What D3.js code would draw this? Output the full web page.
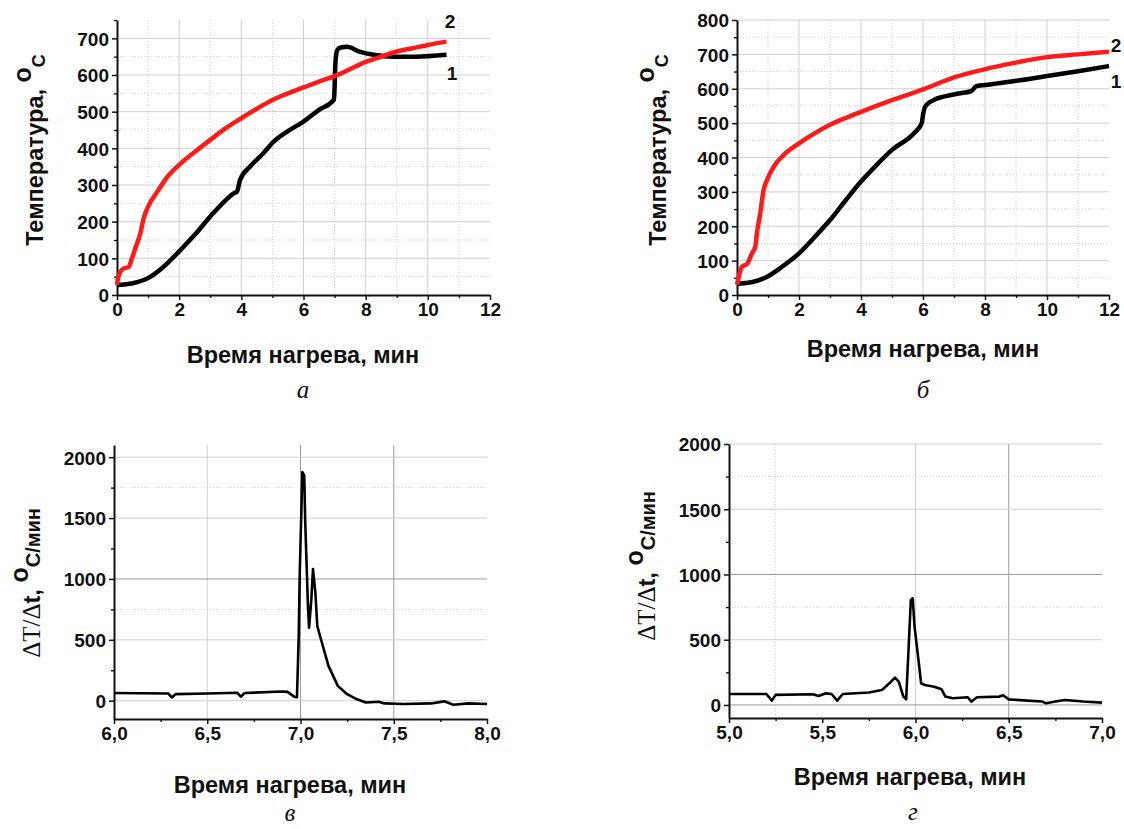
<!DOCTYPE html>
<html>
<head>
<meta charset="utf-8">
<script src="https://cdn.jsdelivr.net/npm/d3@7"></script>
<style>
  body { margin: 0; background: #fff; }
  svg { display: block; }
  .tick text { font-family: "Liberation Sans", Arial, sans-serif; font-weight: bold; font-size: 19px; fill: #111; }
  .ttl { font-family: "Liberation Sans", Arial, sans-serif; font-weight: bold; font-size: 23.5px; fill: #111; }
  .cap { font-family: "Liberation Serif", "Times New Roman", serif; font-style: italic; font-size: 25px; fill: #111; }
</style>
</head>
<body>
<div id="chart"></div>
<script>
// panel a: heating curves (1 - black, 2 - red)
var aTime1 = [0, 0.5, 1, 1.5, 2, 2.5, 3, 3.5, 3.75, 3.86, 3.96, 4.3, 4.7, 5.04, 5.5, 6, 6.5, 6.98, 7.0, 7.02, 7.05, 7.1, 7.2, 7.4, 7.8, 8.25, 8.9, 9.6, 10.6];
var aTemp1 = [27, 32, 46, 77, 119, 164, 214, 259, 277, 282, 314, 352, 386, 418, 447, 473, 505, 533, 565, 620, 655, 670, 675, 677, 664, 655, 650, 650, 655];
var aTime2 = [0, 0.03, 0.1, 0.2, 0.37, 0.48, 0.6, 0.75, 0.86, 1.0, 1.3, 1.6, 2, 2.5, 3, 3.5, 4, 4.5, 5, 5.5, 6, 6.5, 7, 7.4, 8, 8.5, 9, 9.5, 10, 10.6];
var aTemp2 = [28, 45, 62, 72, 76, 100, 130, 168, 210, 241, 282, 320, 355, 390, 423, 455, 482, 508, 532, 550, 566, 582, 597, 612, 636, 650, 664, 673, 682, 691];

// panel b
var bTime1 = [0, 0.5, 0.97, 1.45, 2, 2.5, 3, 3.5, 4, 4.5, 5, 5.7, 5.96, 6.0, 6.07, 6.34, 6.66, 7.2, 7.52, 7.6, 7.7, 8, 9, 10, 11, 12];
var bTemp1 = [33, 38, 53, 82, 121, 168, 218, 275, 330, 378, 422, 470, 500, 524, 548, 567, 577, 587, 592, 596, 607, 611, 623, 637, 651, 666];
var bTime2 = [0, 0.05, 0.16, 0.32, 0.48, 0.59, 0.64, 0.75, 0.86, 0.97, 1.18, 1.5, 2, 2.5, 3, 3.5, 4, 5, 6, 7, 8, 9, 10, 11, 12];
var bTemp2 = [30, 50, 82, 90, 121, 141, 179, 238, 306, 335, 373, 407, 441, 470, 495, 515, 533, 567, 598, 633, 657, 676, 692, 700, 708];

// panel v: dT/dt
var vTime = [6.0, 6.29, 6.31, 6.33, 6.5, 6.66, 6.68, 6.7, 6.9, 6.93, 6.97, 6.981, 6.99, 6.996, 7.01, 7.02, 7.025, 7.04, 7.046, 7.058, 7.067, 7.08, 7.09, 7.11, 7.15, 7.2, 7.25, 7.3, 7.35, 7.42, 7.45, 7.55, 7.7, 7.77, 7.82, 7.9, 8.0];
var vRate = [63, 60, 27, 54, 60, 66, 33, 63, 76, 73, 30, 28, 500, 1050, 1878, 1850, 1483, 776, 599, 830, 1081, 884, 612, 503, 286, 122, 54, 14, -14, -8, -22, -27, -22, -5, -33, -22, -27];

// panel g
var gTime = [5.0, 5.2, 5.23, 5.25, 5.45, 5.48, 5.52, 5.55, 5.58, 5.61, 5.75, 5.82, 5.86, 5.89, 5.91, 5.935, 5.95, 5.96, 5.975, 5.985, 5.995, 6.02, 6.03, 6.05, 6.1, 6.14, 6.16, 6.2, 6.28, 6.3, 6.33, 6.45, 6.47, 6.5, 6.6, 6.68, 6.7, 6.75, 6.8, 6.9, 7.0];
var gRate = [84, 84, 33, 77, 82, 69, 89, 84, 33, 84, 95, 115, 166, 209, 179, 64, 43, 345, 805, 817, 600, 294, 166, 153, 140, 120, 64, 51, 59, 26, 59, 64, 74, 43, 33, 26, 13, 26, 38, 26, 18];

var tempTicks = [0, 100, 200, 300, 400, 500, 600, 700, 800];
var rateTicks = [0, 500, 1000, 1500, 2000];

var xTitle = 'Время нагрева, мин';

var svg = d3.select('#chart').append('svg')
    .attr('width', 1124)
    .attr('height', 829);

var comma = function (d) { return d3.format('.1f')(d).replace('.', ','); };

function zip(xs, ys) {
    return xs.map(function (x, i) { return [x, ys[i]]; });
}

function drawPanel(p) {
    var g = svg.append('g');
    var x = d3.scaleLinear().domain(p.xDomain).range([p.left, p.right]);
    var y = d3.scaleLinear().domain(p.yDomain).range([p.bottom, p.top]);

    // grid
    p.xMinorGrid.forEach(function (v) {
        g.append('line').attr('x1', x(v)).attr('x2', x(v)).attr('y1', p.top).attr('y2', p.bottom)
            .attr('stroke', '#d0d0d0').attr('stroke-dasharray', '1,2');
    });
    p.yMinorGrid.forEach(function (v) {
        g.append('line').attr('x1', p.left).attr('x2', p.right).attr('y1', y(v)).attr('y2', y(v))
            .attr('stroke', '#d0d0d0').attr('stroke-dasharray', '1,2');
    });
    p.xGrid.forEach(function (v) {
        g.append('line').attr('x1', x(v)).attr('x2', x(v)).attr('y1', p.top).attr('y2', p.bottom)
            .attr('stroke', p.darkGridX && p.darkGridX.indexOf(v) >= 0 ? '#9a9a9a' : '#cfcfcf');
    });
    p.yGrid.forEach(function (v) {
        g.append('line').attr('x1', p.left).attr('x2', p.right).attr('y1', y(v)).attr('y2', y(v))
            .attr('stroke', p.darkGridY && p.darkGridY.indexOf(v) >= 0 ? '#9a9a9a' : '#cfcfcf');
    });

    // minor ticks
    g.append('g').attr('transform', 'translate(0,' + p.bottom + ')')
        .call(d3.axisBottom(x).tickValues(p.xMinor).tickSize(3).tickFormat(''))
        .call(function (a) { a.select('.domain').remove(); a.selectAll('line').attr('stroke-width', 1.3); });
    g.append('g').attr('transform', 'translate(' + p.left + ',0)')
        .call(d3.axisLeft(y).tickValues(p.yMinor).tickSize(3).tickFormat(''))
        .call(function (a) { a.select('.domain').remove(); a.selectAll('line').attr('stroke-width', 1.3); });

    // main axes
    var xa = g.append('g').attr('transform', 'translate(0,' + p.bottom + ')')
        .call(d3.axisBottom(x).tickValues(p.xTicks).tickSize(5).tickSizeOuter(0).tickPadding(3).tickFormat(p.xFormat || d3.format('d')));
    var ya = g.append('g').attr('transform', 'translate(' + p.left + ',0)')
        .call(d3.axisLeft(y).tickValues(p.yTicks).tickSize(5).tickSizeOuter(0).tickPadding(3).tickFormat(d3.format('d')));
    [xa, ya].forEach(function (a) {
        a.select('.domain').attr('stroke-width', 2).attr('stroke', '#111');
        a.selectAll('.tick line').attr('stroke-width', 1.5).attr('stroke', '#111');
    });
    ya.selectAll('.tick text').attr('dy', '0.36em');

    // curves
    p.series.forEach(function (s) {
        g.append('path')
            .datum(zip(s.x, s.y))
            .attr('fill', 'none')
            .attr('stroke', s.color)
            .attr('stroke-width', s.width)
            .attr('stroke-linejoin', 'round')
            .attr('d', d3.line()
                .x(function (d) { return x(d[0]); })
                .y(function (d) { return y(d[1]); })
                .curve(s.curve || d3.curveLinear));
    });

    // x title
    g.append('text').attr('class', 'ttl').attr('text-anchor', 'middle')
        .attr('x', p.xTitlePos[0]).attr('y', p.xTitlePos[1]).text(xTitle);

    // y title
    var yt = g.append('text').attr('class', 'ttl').attr('text-anchor', 'middle')
        .attr('transform', 'translate(' + p.yTitlePos[0] + ',' + p.yTitlePos[1] + ') rotate(-90)');
    p.yTitle(yt);

    // caption
    g.append('text').attr('class', 'cap').attr('text-anchor', 'middle')
        .attr('x', p.capPos[0]).attr('y', p.capPos[1]).text(p.caption);

    // curve numbers
    (p.labels || []).forEach(function (l) {
        g.append('text').attr('class', 'ttl').style('font-size', '19px').attr('text-anchor', 'middle')
            .attr('x', l[0]).attr('y', l[1]).text(l[2]);
    });
}

function tempTitle(t) {
    t.append('tspan').text('Температура, ');
    t.append('tspan').attr('dy', -12).style('font-size', '25px').text('o');
    t.append('tspan').attr('dy', 14).style('font-size', '18px').text('C');
}

function rateTitle(t) {
    t.append('tspan').style('font-family', '"Liberation Serif", "Times New Roman", serif')
        .style('font-weight', 'normal').style('font-size', '25px').text('ΔT/Δ');
    t.append('tspan').text('t, ');
    t.append('tspan').attr('dy', -12).style('font-size', '25px').text('o');
    t.append('tspan').attr('dy', 12).style('font-size', '20px').text('C/мин');
}

drawPanel({
    left: 117, right: 490, top: 20, bottom: 295,
    xDomain: [0, 12], yDomain: [0, 750],
    xTicks: d3.range(0, 13, 2), xMinor: d3.range(1, 12, 2),
    yTicks: tempTicks.slice(0, 8), yMinor: d3.range(50, 751, 100),
    xGrid: [2, 4, 6, 8, 10], xMinorGrid: [1, 3, 5, 7, 9, 11],
    yGrid: d3.range(100, 701, 100), yMinorGrid: d3.range(50, 701, 100),
    series: [
        { x: aTime1, y: aTemp1, color: '#000', width: 4.5, curve: d3.curveMonotoneX },
        { x: aTime2, y: aTemp2, color: '#ff1a1a', width: 4.5, curve: d3.curveMonotoneX }
    ],
    xTitlePos: [303, 363], yTitlePos: [43, 150], yTitle: tempTitle,
    capPos: [303, 398], caption: 'а',
    labels: [[450, 28, '2'], [452, 80, '1']]
});

drawPanel({
    left: 737, right: 1109, top: 20, bottom: 295,
    xDomain: [0, 12], yDomain: [0, 800],
    xTicks: d3.range(0, 13, 2), xMinor: d3.range(1, 12, 2),
    yTicks: tempTicks, yMinor: d3.range(50, 801, 100),
    xGrid: [2, 4, 6, 8, 10], xMinorGrid: [1, 3, 5, 7, 9, 11],
    yGrid: d3.range(100, 801, 100), yMinorGrid: d3.range(50, 801, 100),
    series: [
        { x: bTime1, y: bTemp1, color: '#000', width: 4.5, curve: d3.curveMonotoneX },
        { x: bTime2, y: bTemp2, color: '#ff1a1a', width: 4.5, curve: d3.curveMonotoneX }
    ],
    xTitlePos: [923, 357], yTitlePos: [666, 150], yTitle: tempTitle,
    capPos: [923, 398], caption: 'б',
    labels: [[1116, 52, '2'], [1116, 88, '1']]
});

drawPanel({
    left: 114, right: 487, top: 445, bottom: 719,
    xDomain: [6, 8], yDomain: [-150, 2100],
    xTicks: [6, 6.5, 7, 7.5, 8], xMinor: [6.25, 6.75, 7.25, 7.75], xFormat: comma,
    yTicks: rateTicks, yMinor: [250, 750, 1250, 1750],
    xGrid: [6.5, 7, 7.5], xMinorGrid: [], darkGridX: [7, 7.5],
    yGrid: rateTicks, yMinorGrid: [750, 1750], darkGridY: [1000],
    series: [{ x: vTime, y: vRate, color: '#000', width: 2.6 }],
    xTitlePos: [290, 793], yTitlePos: [40, 583], yTitle: rateTitle,
    capPos: [290, 821], caption: 'в'
});

drawPanel({
    left: 729, right: 1102, top: 444, bottom: 718,
    xDomain: [5, 7], yDomain: [-100, 2000],
    xTicks: [5, 5.5, 6, 6.5, 7], xMinor: [5.25, 5.75, 6.25, 6.75], xFormat: comma,
    yTicks: rateTicks, yMinor: [250, 750, 1250, 1750],
    xGrid: [6, 6.5], xMinorGrid: [5.25], darkGridX: [6.5],
    yGrid: rateTicks, yMinorGrid: [750, 1750], darkGridY: [0, 1000],
    series: [{ x: gTime, y: gRate, color: '#000', width: 2.6 }],
    xTitlePos: [910, 785], yTitlePos: [655, 566], yTitle: rateTitle,
    capPos: [913, 820], caption: 'г'
});
</script>
</body>
</html>
